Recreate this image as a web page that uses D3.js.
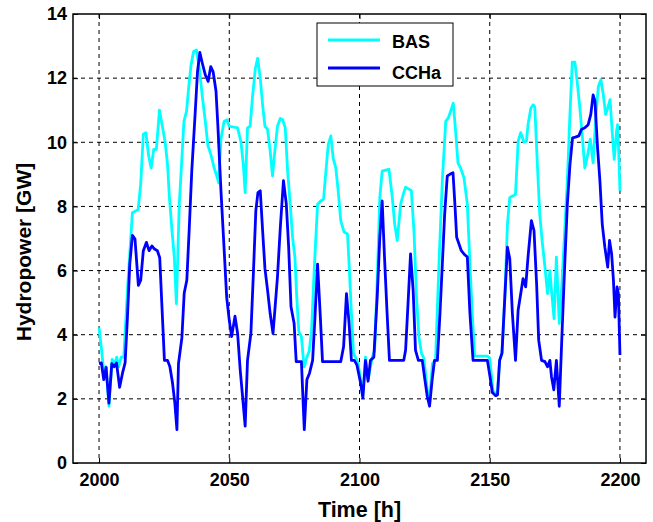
<!DOCTYPE html>
<html><head><meta charset="utf-8">
<script src="https://cdn.jsdelivr.net/npm/d3@7"></script>
<style>body{margin:0;background:#fff}svg{display:block}text{font-family:"Liberation Sans",Arial,Helvetica,sans-serif;font-weight:bold}</style>
</head><body><svg id="c" width="653" height="522"></svg>
<script>
const xTicks=[2000,2050,2100,2150,2200];
const yTicks=[0,2,4,6,8,10,12,14];
const seriesNames=["BAS","CCHa"];
const basHours=[2000,2001,2002,2002.7,2003.8,2005,2006,2006.8,2007.5,2008.5,2009.5,2011,2012.8,2015,2016,2017,2018,2019,2020,2021,2022,2023.2,2024.4,2025.4,2026.3,2027,2028,2028.9,2029.7,2030.8,2031.8,2032.6,2033.6,2034.4,2035.3,2036.3,2037.4,2038.5,2039.7,2040.8,2041.8,2043,2044.2,2045.2,2045.9,2046.8,2048,2049,2050,2053.2,2054.5,2055.4,2056.1,2057,2058,2058.9,2060,2060.9,2061.9,2062.8,2063.7,2064.7,2065.7,2066.6,2067.5,2068.5,2069.6,2070.5,2071.5,2072.4,2073.4,2074.3,2075.2,2075.9,2076.7,2077.7,2078.5,2078.8,2079.8,2080.7,2081.6,2082.6,2083.9,2085.1,2086.2,2087.1,2088,2089,2089.9,2090.9,2091.8,2092.8,2094.1,2095.4,2096,2096.9,2097.7,2098.6,2099.5,2100.4,2101.2,2102.3,2103.3,2104.9,2105.8,2106.8,2107.8,2108.7,2110,2111.3,2112.6,2113.5,2114.5,2115.8,2116.8,2117.7,2119,2119.9,2120.9,2121.9,2122.8,2123.8,2124.7,2126,2126.9,2128,2129.2,2130.5,2131.8,2133.1,2134.1,2135,2136,2136.9,2137.8,2138.8,2140.1,2141.4,2142.4,2143.3,2144.2,2149.1,2150,2151.3,2152.9,2153.8,2154.7,2155.8,2156.8,2157.7,2159,2159.9,2160.9,2161.9,2163.2,2164.1,2164.7,2165.8,2166.7,2167.3,2168.3,2169.2,2170.1,2171.2,2172.2,2173.1,2173.7,2174.7,2175.6,2176.7,2177.8,2178.8,2179.8,2180.8,2181.7,2182.7,2183.7,2184.6,2185.6,2186.5,2187.6,2188.6,2189.7,2190.8,2191.7,2192.7,2193.6,2194.5,2195.3,2196.2,2197,2197.8,2198.7,2199.1,2199.6,2200];
const basValues=[4.22,3.5,2.7,3.0,1.77,3.23,3.1,3.3,3.0,3.3,3.3,5.5,7.8,7.9,8.7,10.25,10.3,9.6,9.2,9.78,9.78,11.0,10.45,10.0,9.3,8.3,7.25,6.4,4.97,8.06,9.5,10.65,10.97,11.7,12.4,12.83,12.88,12.3,11.4,10.65,9.9,9.6,9.2,8.95,8.74,10.1,10.65,10.7,10.5,10.45,10.0,9.3,8.43,10.45,10.5,11.4,12.3,12.62,12.0,11.17,10.5,10.4,9.73,8.95,9.73,10.5,10.74,10.7,10.45,9.1,8.07,7.04,6.42,5.18,4.1,3.94,3.2,3.0,3.3,3.5,4.14,6.0,8.07,8.17,8.23,9.1,9.93,10.2,9.5,9.2,8.49,7.56,7.2,7.14,6.2,4.66,3.42,3.27,3.1,2.6,2.08,3.3,2.6,3.3,3.5,5.7,8.28,9.1,9.13,9.16,8.28,7.45,6.94,8.07,8.38,8.6,8.54,8.49,7.25,5.18,3.94,3.42,3.27,2.3,1.9,3.1,3.2,6.2,8.8,10.65,10.76,10.97,11.22,10.35,9.36,9.2,8.9,8.07,6.2,4.66,3.34,3.33,3.27,2.23,2.13,3.2,3.42,5.18,7.45,8.28,8.33,8.38,10.03,10.3,10.0,10.03,10.55,11.07,11.17,11.1,9.3,7.76,6.94,6.11,5.28,6.0,5.39,4.5,6.42,4.35,5.7,7.25,8.8,10.87,12.5,12.5,11.8,11.07,10.14,9.2,9.6,10.1,9.36,10.87,11.74,11.95,11.48,10.87,11.07,11.33,10.35,9.47,10.35,10.55,9.52,8.49];
const cchaHours=[2000,2000.9,2001.8,2002.7,2003.8,2004.9,2005.8,2006.7,2007.9,2009,2010,2010.9,2011.8,2012.8,2013.8,2015.1,2016,2017,2018.2,2019.2,2020.3,2021.3,2022.4,2023.3,2024.1,2025.1,2026.3,2027.2,2028.2,2029.1,2029.9,2030.5,2031.8,2032.7,2033.7,2034.6,2035.6,2036.9,2037.8,2038.7,2039.7,2040.8,2041.9,2042.9,2043.8,2044.9,2045.6,2046.8,2048,2049,2050,2050.9,2052.2,2053.2,2054.2,2055.1,2056.1,2057,2058.3,2059.3,2060.2,2061,2061.9,2062.8,2063.7,2064.7,2065.7,2066.8,2067.6,2068.5,2069.6,2070.8,2071.9,2072.8,2073.7,2074.9,2075.7,2077.7,2078.8,2079.8,2080.8,2082,2082.9,2083.9,2084.9,2085.8,2092.8,2093.9,2095,2096,2096.9,2098,2099,2100.4,2101.3,2102.3,2103.3,2104.2,2105.5,2106.8,2107.8,2108.7,2109.6,2110.6,2111.5,2117,2117.7,2118.7,2119.6,2120.6,2121.5,2122.6,2124.1,2125.1,2126,2126.9,2127.9,2128.8,2129.9,2130.9,2131.8,2132.7,2133.7,2134.7,2135.9,2136.7,2137.3,2138.2,2139.1,2140.1,2141.4,2142.4,2143.6,2149.1,2150.1,2151,2152.3,2153,2153.8,2154.7,2155.8,2156.8,2157.7,2158.7,2159.9,2160.9,2161.9,2162.8,2163.8,2164.7,2166,2167,2168,2168.8,2169.9,2171.2,2172.2,2173.1,2173.7,2174.6,2175.6,2176.7,2177.8,2178.8,2179.8,2180.8,2181.8,2182.9,2184.2,2185.2,2186.5,2187.8,2188.8,2189.7,2190.4,2191.4,2192.3,2193.2,2194.2,2195.3,2196,2196.8,2197.5,2198.1,2198.9,2199.4,2200];
const cchaValues=[3.1,3.12,2.6,2.98,1.87,3.1,3.0,3.12,2.36,2.8,3.12,4.55,6.2,7.1,6.98,5.54,5.7,6.62,6.88,6.62,6.77,6.67,6.62,6.4,4.97,3.2,3.2,3.0,2.5,1.87,1.04,3.1,3.9,5.3,5.7,7.25,9.1,10.9,12.2,12.8,12.45,12.1,11.9,12.36,12.2,11.6,10.55,8.5,6.7,5.17,4.45,3.94,4.58,4.04,2.9,2.08,1.15,3.2,4.04,6.0,7.87,8.43,8.49,7.25,6.06,5.39,4.66,4.04,4.87,5.8,7.35,8.8,8.07,6.73,4.87,4.35,3.16,3.16,1.04,2.6,2.8,3.2,4.55,6.2,4.66,3.16,3.16,3.63,5.28,4.35,3.2,3.2,3.06,2.5,2.03,3.2,2.55,3.2,3.3,5.18,7.04,8.17,6.42,4.66,3.2,3.2,3.52,5.08,6.52,5.39,3.52,3.2,3.2,2.6,2.08,1.77,2.6,3.2,3.2,4.66,6.2,7.76,8.95,9.0,9.05,7.97,7.04,6.83,6.62,6.52,6.42,4.66,3.2,3.2,2.7,2.2,2.1,2.13,3.2,3.42,5.18,6.73,6.37,4.66,3.2,4.76,5.28,5.75,5.49,6.42,7.56,7.25,5.59,3.83,3.2,3.16,3.0,3.2,2.7,2.28,3.2,1.77,4.14,6.2,8.07,9.3,10.14,10.16,10.2,10.4,10.45,10.55,10.87,11.48,11.28,9.83,8.8,7.45,6.73,6.11,6.94,6.52,5.7,4.55,5.49,5.28,3.37];
const colors=["#00ffff","#0000ff"];

const svg=d3.select("#c");
const L=73,R=646,T=14,B=463;
const x=d3.scaleLinear().domain([1990,2210]).range([L,R]);
const y=d3.scaleLinear().domain([0,14]).range([B,T]);

// grid
const g=svg.append("g");
g.selectAll(".gx").data(xTicks).enter().append("line")
 .attr("x1",d=>x(d)).attr("x2",d=>x(d)).attr("y1",T).attr("y2",B)
 .attr("stroke","#000").attr("stroke-width",1).attr("stroke-dasharray","4,4");
g.selectAll(".gy").data(yTicks.filter(d=>d>0&&d<14)).enter().append("line")
 .attr("x1",L).attr("x2",R).attr("y1",d=>y(d)).attr("y2",d=>y(d))
 .attr("stroke","#000").attr("stroke-width",1).attr("stroke-dasharray","4,4");

// lines
const mk=(hs,vs)=>hs.map((h,i)=>[h,vs[i]]);
const line=d3.line().x(d=>x(d[0])).y(d=>y(d[1]));
const data=[mk(basHours,basValues),mk(cchaHours,cchaValues)];
data.forEach((d,i)=>{
  svg.append("path").datum(d).attr("d",line).attr("fill","none")
   .attr("stroke",colors[i]).attr("stroke-width",2.8).attr("stroke-linejoin","round");
});

// axes
svg.append("g").attr("transform",`translate(0,${B})`)
 .call(d3.axisBottom(x).tickValues(xTicks).tickSize(-5).tickPadding(10).tickFormat(d3.format("d")));
svg.append("g").attr("transform",`translate(${L},0)`)
 .call(d3.axisLeft(y).tickValues(yTicks).tickSize(-5).tickPadding(6));
svg.append("g").attr("transform",`translate(0,${T})`)
 .call(d3.axisTop(x).tickValues(xTicks).tickSize(-5).tickFormat(""));
svg.append("g").attr("transform",`translate(${R},0)`)
 .call(d3.axisRight(y).tickValues(yTicks).tickSize(-5).tickFormat(""));
svg.selectAll(".domain").remove();
svg.selectAll(".tick line").attr("stroke","#000").attr("stroke-width",1);
svg.selectAll(".tick text").attr("font-size",18).attr("font-weight","bold")
 .attr("font-family",'"Liberation Sans",Arial,sans-serif').attr("fill","#000");
svg.append("rect").attr("x",L).attr("y",T).attr("width",R-L).attr("height",B-T)
 .attr("fill","none").attr("stroke","#000").attr("stroke-width",1.5);

// labels
svg.append("text").attr("x",(L+R)/2).attr("y",517).attr("text-anchor","middle")
 .attr("font-size",21.5).text("Time [h]");
svg.append("text").attr("transform",`translate(31,252) rotate(-90)`)
 .attr("text-anchor","middle").attr("font-size",21).text("Hydropower [GW]");

// legend
const lg=svg.append("g");
lg.append("rect").attr("x",317).attr("y",23).attr("width",136).attr("height",63)
 .attr("fill","#fff").attr("stroke","#000").attr("stroke-width",1);
seriesNames.forEach((n,i)=>{
  const yy=40+i*28;
  lg.append("line").attr("x1",328).attr("x2",380).attr("y1",yy).attr("y2",yy)
   .attr("stroke",colors[i]).attr("stroke-width",2.8);
  lg.append("text").attr("x",392).attr("y",48+i*31).attr("font-size",18).text(n);
});
</script></body></html>
